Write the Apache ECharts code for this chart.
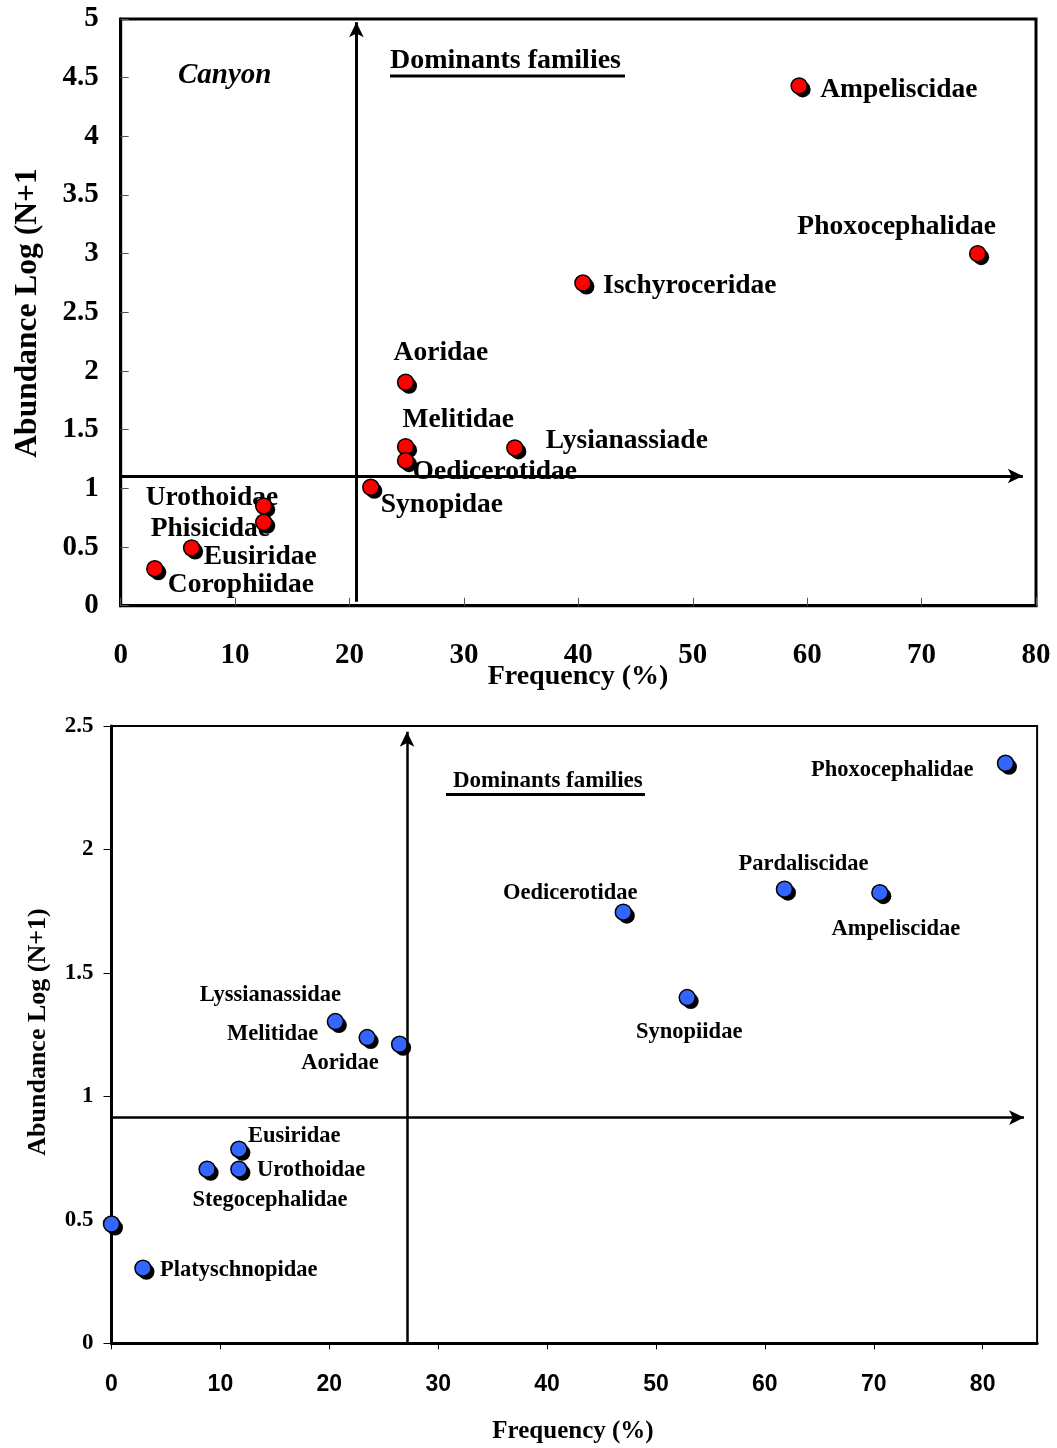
<!DOCTYPE html>
<html><head><meta charset="utf-8">
<script src="https://cdn.jsdelivr.net/npm/echarts@6/dist/echarts.min.js"></script>
<style>html,body{margin:0;padding:0;background:#fff}#c{width:1057px;height:1448px}</style>
</head><body><div id="c"></div>
<script>
// ---------- DATA: top chart (Canyon) ----------
const topNames = ['Ampeliscidae','Phoxocephalidae','Ischyroceridae','Aoridae','Melitidae','Oedicerotidae','Lysianassiade','Synopidae','Urothoidae','Phisicidae','Eusiridae','Corophiidae'];
const topFreq  = [59.3, 74.9, 40.4, 24.9, 24.9, 24.9, 34.45, 21.86, 12.5, 12.5, 6.2, 2.98];
const topAbund = [4.43, 3.0, 2.75, 1.904, 1.355, 1.236, 1.345, 1.009, 0.85, 0.711, 0.492, 0.315];
const topXTicks = [0,10,20,30,40,50,60,70,80];
const topYTicks = [0,0.5,1,1.5,2,2.5,3,3.5,4,4.5,5];
const topRefFreq = 20.6;   // vertical reference
const topRefAbund = 1.105; // horizontal reference

// ---------- DATA: bottom chart ----------
const botNames = ['Phoxocephalidae','Pardaliscidae','Ampeliscidae','Oedicerotidae','Synopiidae','Lyssianassidae','Melitidae','Aoridae','Eusiridae','Urothoidae','Stegocephalidae','','Platyschnopidae'];
const botFreq  = [82.1, 61.8, 70.56, 47.0, 52.87, 20.56, 23.48, 26.46, 11.7, 11.7, 8.78, 0, 2.89];
const botAbund = [2.349, 1.839, 1.825, 1.746, 1.40, 1.303, 1.238, 1.211, 0.786, 0.705, 0.705, 0.483, 0.304];
const botXTicks = [0,10,20,30,40,50,60,70,80];
const botYTicks = [0,0.5,1,1.5,2,2.5];
const botRefFreq = 27.14;
const botRefAbund = 0.914;

// ---------- label placement (styling) ----------
const topLabelPlace = {
  'Ampeliscidae':['left',21,4], 'Phoxocephalidae':['center',-81,-27], 'Ischyroceridae':['left',20,3],
  'Aoridae':['left',-12,-29], 'Melitidae':['left',-3,-27], 'Oedicerotidae':['left',7,11],
  'Lysianassiade':['left',31,-7], 'Synopidae':['left',10,18], 'Urothoidae':['left',-118,-8],
  'Phisicidae':['left',-113,7], 'Eusiridae':['left',12,9], 'Corophiidae':['left',13,16]
};
const botLabelPlace = {
  'Phoxocephalidae':['right',-32,7], 'Pardaliscidae':['center',19,-25], 'Ampeliscidae':['center',16,37],
  'Oedicerotidae':['center',-53,-19], 'Synopiidae':['center',2,35], 'Lyssianassidae':['center',-65,-26],
  'Melitidae':['right',-49,-3], 'Aoridae':['right',-21,19], 'Eusiridae':['left',9,-13],
  'Urothoidae':['left',18,1], 'Stegocephalidae':['center',63,31], 'Platyschnopidae':['left',17,2]
};

const SERIF = "'Liberation Serif','Times New Roman',serif";
const SANS = "'Liberation Sans',Arial,sans-serif";

function points(xs, ys, names){ return xs.map((x,i)=>({name:names[i], value:[x, ys[i]]})); }
function labelPoints(xs, ys, names, place, fs){
  return xs.map((x,i)=>{
    const p = place[names[i]];
    return {name:names[i], value:[x, ys[i]], label: p ? {show:true, formatter:'{b}', color:'#000', fontFamily:SERIF, fontWeight:'bold', align:p[0], verticalAlign:'middle', offset:[p[1],p[2]], fontSize:fs} : {show:false}};
  });
}
function seriesFor(idx, xs, ys, names, place, fs, color, vx, hy, xMaxArrow, yMaxArrow, yMinV, lw){
  return [
    { type:'scatter', xAxisIndex:idx, yAxisIndex:idx, z:1, silent:true, clip:false,
      symbol:'circle', symbolSize:1, itemStyle:{color:'rgba(0,0,0,0)', opacity:1},
      label:{show:true, position:'inside', formatter:'{b}', color:'#000', fontFamily:SERIF, fontWeight:'bold', fontSize:fs},
      data: labelPoints(xs, ys, names, place, fs),
      markLine:{ silent:true, animation:false, symbol:['none','arrow'], symbolSize:[11,15],
        label:{show:false}, emphasis:{disabled:true},
        lineStyle:{color:'#000', width:lw, type:'solid', opacity:1},
        data:[
          [{coord:[vx, yMinV]}, {coord:[vx, yMaxArrow]}],
          [{coord:[0, hy]}, {coord:[xMaxArrow, hy]}]
        ]}
    },
    { type:'scatter', xAxisIndex:idx, yAxisIndex:idx, z:2, silent:true, clip:false,
      symbol:'circle', symbolSize:16, symbolOffset:[3.5,3.5], itemStyle:{color:'#000', opacity:1},
      data: points(xs, ys, names) },
    { type:'scatter', xAxisIndex:idx, yAxisIndex:idx, z:3, silent:true, clip:false,
      symbol:'circle', symbolSize:16, itemStyle:{color:color, borderColor:'#000', borderWidth:1.5, opacity:1},
      data: points(xs, ys, names) }
  ];
}

const chart = echarts.init(document.getElementById('c'));
chart.setOption({
  animation:false,
  backgroundColor:'#fff',
  grid:[
    {left:120.7, top:19, width:915.3, height:586.7, show:true, borderColor:'#000', borderWidth:3, backgroundColor:'transparent'},
    {left:111.5, top:726, width:925.6, height:617.3, show:true, borderColor:'#000', borderWidth:2, backgroundColor:'transparent'}
  ],
  xAxis:[
    {gridIndex:0, type:'value', min:0, max:80, interval:10,
     axisLine:{lineStyle:{color:'#000', width:3}},
     axisTick:{inside:true, length:8, lineStyle:{color:'#555', width:1}, customValues:topXTicks},
     axisLabel:{fontFamily:SERIF, fontWeight:'bold', fontSize:29, color:'#000', margin:35, customValues:topXTicks},
     splitLine:{show:false}},
    {gridIndex:1, type:'value', min:0, max:85, interval:10,
     axisLine:{lineStyle:{color:'#000', width:3}},
     axisTick:{inside:false, length:6, lineStyle:{color:'#000', width:1}, customValues:botXTicks},
     axisLabel:{fontFamily:SANS, fontWeight:'bold', fontSize:23, color:'#000', margin:30, customValues:botXTicks},
     splitLine:{show:false}}
  ],
  yAxis:[
    {gridIndex:0, type:'value', min:0, max:5, interval:0.5,
     axisLine:{show:true, lineStyle:{color:'#000', width:3}},
     axisTick:{show:true, inside:true, length:8, lineStyle:{color:'#555', width:1}, customValues:topYTicks},
     axisLabel:{fontFamily:SERIF, fontWeight:'bold', fontSize:29, color:'#000', margin:22, customValues:topYTicks},
     splitLine:{show:false}},
    {gridIndex:1, type:'value', min:0, max:2.5, interval:0.5,
     axisLine:{show:true, lineStyle:{color:'#000', width:3}},
     axisTick:{show:true, inside:false, length:8, lineStyle:{color:'#000', width:1}, customValues:botYTicks},
     axisLabel:{fontFamily:SERIF, fontWeight:'bold', fontSize:23, color:'#000', margin:18, customValues:botYTicks},
     splitLine:{show:false}}
  ],
  graphic:[
    {type:'text', x:178, y:76, z:10, style:{text:'Canyon', fontFamily:SERIF, fontStyle:'italic', fontWeight:'bold', fontSize:29, fill:'#000', align:'left', verticalAlign:'middle'}},
    {type:'text', x:390, y:61, z:10, style:{text:'Dominants families', fontFamily:SERIF, fontWeight:'bold', fontSize:28, fill:'#000', align:'left', verticalAlign:'middle'}},
    {type:'rect', shape:{x:390, y:74.5, width:235, height:3}, style:{fill:'#000'}, z:10},
    {type:'text', x:453, y:781, z:10, style:{text:'Dominants families', fontFamily:SERIF, fontWeight:'bold', fontSize:23, fill:'#000', align:'left', verticalAlign:'middle'}},
    {type:'rect', shape:{x:446, y:793, width:199, height:3}, style:{fill:'#000'}, z:10},
    {type:'text', x:578, y:677, z:10, style:{text:'Frequency (%)', fontFamily:SERIF, fontWeight:'bold', fontSize:28, fill:'#000', align:'center', verticalAlign:'middle'}},
    {type:'text', x:573, y:1432, z:10, style:{text:'Frequency (%)', fontFamily:SERIF, fontWeight:'bold', fontSize:25, fill:'#000', align:'center', verticalAlign:'middle'}},
    {type:'text', x:28, y:313, rotation:Math.PI/2, z:10, style:{text:'Abundance Log (N+1', fontFamily:SERIF, fontWeight:'bold', fontSize:31.5, fill:'#000', align:'center', verticalAlign:'middle'}},
    {type:'text', x:38, y:1032, rotation:Math.PI/2, z:10, style:{text:'Abundance Log (N+1)', fontFamily:SERIF, fontWeight:'bold', fontSize:26, fill:'#000', align:'center', verticalAlign:'middle'}}
  ],
  series:[].concat(
    seriesFor(0, topFreq, topAbund, topNames, topLabelPlace, 27.5, '#ff0000', topRefFreq, topRefAbund, 78.85, 4.972, 0.034, 3),
    seriesFor(1, botFreq, botAbund, botNames, botLabelPlace, 22.5, '#3366ff', botRefFreq, botRefAbund, 83.8, 2.477, 0, 2.5)
  )
});
</script>
</body></html>
